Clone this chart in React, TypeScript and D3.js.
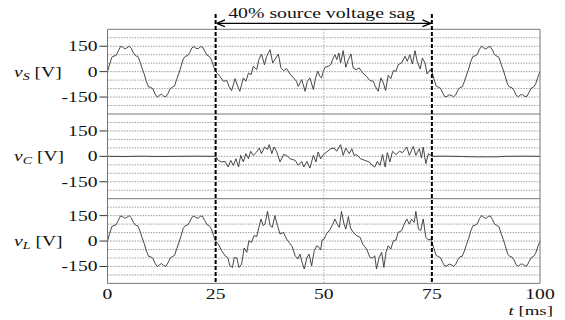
import React from "react";
import * as d3 from "d3";

// ---------- data ----------
const xTicks = [0, 25, 50, 75, 100];
const yTicks = [150, 0, -150];
const panelLabels = ["S", "C", "L"];
const sagStart = 25;
const sagEnd = 75;
const annotation = "40% source voltage sag";

// source voltage before the sag (t [ms], v [V])
const vsPre: [number, number][] = [
  [0, 0], [0.5, 45], [1, 85], [1.5, 92], [2, 96], [2.5, 122], [3, 148], [3.5, 145], [4, 134], [4.5, 140],
  [5, 150], [5.5, 138], [6, 110], [6.5, 93], [7, 90], [7.5, 60], [8, 20], [8.5, -15], [9, -60], [9.5, -90],
  [10, -93], [10.5, -102], [11, -132], [11.5, -150], [12, -140], [12.5, -133], [13, -145], [13.5, -148], [14, -128], [14.5, -100],
  [15, -92], [15.5, -85], [16, -45], [16.5, -10], [17, 30], [17.5, 75], [18, 91], [18.5, 94], [19, 112], [19.5, 140],
  [20, 148], [20.5, 137], [21, 136], [21.5, 147], [22, 145], [22.5, 120], [23, 97], [23.5, 91], [24, 72], [24.5, 33], [25, 0],
];

// source voltage during the sag
const vsSag: [number, number][] = [
  [25.5, -12], [26, -28], [26.8, -57], [27.6, -53], [28.1, -87], [28.7, -112], [29.5, -41], [29.9, -73], [30.6, -116],
  [31.4, -37], [32, -57], [32.6, -8], [33.2, -18], [33.7, 32], [34.5, 12], [35, 71], [35.6, 104], [36.3, 41], [36.8, 91],
  [37.6, 130], [38.2, 51], [38.7, 71], [39.5, 104], [40.1, 22], [40.7, 6], [41.4, 18], [42.2, -14], [43, -37], [43.7, -57],
  [44.1, -87], [44.9, -47], [45.7, -116], [46.2, -57], [46.8, -37], [47.6, -106], [48.1, -37], [48.6, 2], [49.1, -28],
  [49.5, -37], [49.9, 2], [50.3, 26], [51.1, 32], [51.6, 41], [52.2, 81], [52.6, 100], [53, 71], [53.5, 110], [53.9, 51],
  [54.5, 124], [55.1, 26], [55.7, 71], [56.3, 104], [56.8, 22], [57.5, 12], [58.2, 22], [59, -8], [59.9, -28], [60.7, -53],
  [61.5, -57], [61.8, -81], [62.6, -116], [63.2, -37], [63.8, -67], [64.3, -112], [64.9, -22], [65.5, -41], [66.1, 6],
  [66.7, 2], [67.2, 41], [68, 51], [68.8, 91], [69.3, 61], [69.9, 100], [70.5, 45], [71.1, 124], [71.6, 61], [72.3, 16],
  [72.8, 81], [73.4, 51], [73.9, -14], [74.6, 12], [75, 0],
];

// source voltage after the sag
const vsPost: [number, number][] = [
  [75.5, -45], [76, -85], [76.5, -92], [77, -98], [77.5, -126], [78, -148], [78.5, -146], [79, -136], [79.5, -140],
  [80, -148], [80.5, -138], [81, -110], [81.5, -93], [82, -90], [82.5, -60], [83, -20], [83.5, 15], [84, 60], [84.5, 90],
  [85, 93], [85.5, 102], [86, 132], [86.5, 150], [87, 140], [87.5, 133], [88, 145], [88.5, 148], [89, 128], [89.5, 100],
  [90, 92], [90.5, 85], [91, 45], [91.5, 10], [92, -30], [92.5, -75], [93, -91], [93.5, -94], [94, -112], [94.5, -140],
  [95, -148], [95.5, -137], [96, -136], [96.5, -147], [97, -145], [97.5, -120], [98, -97], [98.5, -91], [99, -72], [99.5, -33], [100, 0],
];

// compensating voltage
const vcPre: [number, number][] = [
  [0, 0], [4, -1], [8, 1], [12, -1], [16, 0], [20, 1], [25, 0],
];
const vcSag: [number, number][] = [
  [25.6, -24], [26.4, -33], [27.2, -30], [27.9, -63], [28.5, -24], [29.1, -53], [29.7, -14], [30.3, -63], [30.8, 6],
  [31.4, -33], [32, 16], [32.6, -14], [33.1, 30], [33.7, 6], [34.5, 26], [35.1, 49], [35.6, 16], [36.3, 55], [37, 41],
  [37.4, 69], [38, 16], [38.5, 55], [39.1, 30], [39.9, -33], [40.7, 10], [41.4, 6], [42.2, -14], [43.4, -24], [44.1, -53],
  [44.9, -30], [45.4, -63], [46.1, -30], [46.8, -69], [47.6, 6], [48.2, -33], [48.7, 26], [49.3, -14], [49.9, 10],
  [50.7, 26], [51.6, 45], [52.4, 49], [53, 30], [53.9, 69], [54.5, 6], [55.1, 49], [55.9, 16], [56.5, 45], [57, 6],
  [57.6, 10], [58.5, -14], [59.5, -24], [60.5, -33], [61.2, -53], [61.8, -63], [62.4, -30], [63, -53], [63.6, 10],
  [64.2, -63], [64.7, 22], [65.3, -33], [65.9, 30], [66.7, 10], [67.5, 30], [68.2, 22], [69.2, 55], [69.8, 6], [70.7, 59],
  [71.3, 6], [72.1, 45], [72.6, -10], [73, 55], [73.6, -43], [74.2, 16], [74.7, 6], [75, 0],
];
const vcPost: [number, number][] = [
  [78, 1], [82, -1], [85, -3], [90, -3], [92, 0], [96, 1], [100, 0],
];

// load voltage during the sag (before/after it equals the source voltage)
const vlSag: [number, number][] = [
  [25.6, -18], [26.4, -57], [27.2, -87], [27.8, -97], [28.3, -146], [28.9, -156], [29.3, -97], [29.9, -100], [30.4, -156],
  [31, -136], [31.6, -41], [32.2, -67], [32.7, 2], [33.3, -8], [33.9, 32], [34.5, 26], [35, 81], [35.5, 130], [36, 91],
  [36.4, 100], [37, 175], [37.6, 91], [38.1, 81], [38.7, 150], [39.3, 91], [39.9, 41], [40.7, 51], [41.4, 12], [42, -8],
  [42.7, -33], [43.4, -87], [44, -106], [44.5, -77], [45.1, -136], [45.5, -165], [46.1, -97], [46.6, -77], [47.2, -146],
  [47.8, -57], [48.4, -28], [48.9, -37], [49.3, -53], [49.6, 6], [50.1, 12], [50.7, 45], [51.4, 65], [52.1, 100],
  [52.6, 130], [53.1, 100], [53.6, 81], [54.1, 175], [54.7, 100], [55.1, 71], [55.7, 144], [56.2, 77], [56.8, 51],
  [57.6, 32], [58.4, 22], [59, -18], [59.9, -47], [60.7, -97], [61.3, -100], [61.8, -87], [62.2, -165], [62.8, -97],
  [63.4, -67], [63.9, -156], [64.4, -67], [64.9, -28], [65.5, -47], [66.1, 2], [66.7, 6], [67.2, 51], [68, 61], [68.6, 100],
  [69.2, 130], [69.8, 100], [70.3, 130], [70.9, 110], [71.3, 175], [71.9, 71], [72.4, 61], [73, 130], [73.6, 22],
  [74.2, 6], [74.7, 12], [75, -8],
];

// ---------- layout ----------
const W = 565;
const H = 320;
const left = 107.5;
const right = 540;
const top0 = 29.3;
const panelH = 84.7;
const FONT = '"Liberation Serif", "Times New Roman", "DejaVu Serif", serif';
const FS = 14;
const SX = 1.4; // horizontal stretch of the reference lettering

const x = d3.scaleLinear().domain([0, 100]).range([left, right]);
const yFor = (i: number) =>
  d3.scaleLinear().domain([-250, 250]).range([top0 + (i + 1) * panelH, top0 + i * panelH]);

const seriesData: [number, number][][] = [
  [...vsPre, ...vsSag, ...vsPost],
  [...vcPre, ...vcSag, ...vcPost],
  [...vsPre, ...vlSag, ...vsPost],
];

const gridVals = d3.range(-200, 250, 50);

function Label({
  x: lx,
  y: ly,
  anchor = "start",
  size = FS,
  children,
}: {
  x: number;
  y: number;
  anchor?: "start" | "middle" | "end";
  size?: number;
  children: React.ReactNode;
}) {
  return (
    <g transform={`translate(${lx},${ly}) scale(${SX},1)`}>
      <text x={0} y={0} textAnchor={anchor} fontSize={size} fill="#111" style={{ fontFamily: FONT }}>
        {children}
      </text>
    </g>
  );
}

export default function App() {
  const bottom = top0 + 3 * panelH;
  return (
    <svg
      width={W}
      height={H}
      style={{ position: "absolute", left: 0, top: 0, background: "#fff" }}
    >
      {seriesData.map((data, i) => {
        const y = yFor(i);
        const line = d3
          .line<[number, number]>()
          .x((d) => x(d[0]))
          .y((d) => y(d[1]));
        return (
          <g key={i}>
            {gridVals.map((v) => (
              <line
                key={v}
                x1={left}
                x2={right}
                y1={y(v)}
                y2={y(v)}
                stroke="#777"
                strokeWidth={0.7}
                strokeDasharray="1.5,1.2"
              />
            ))}
            {yTicks.map((v) => (
              <g key={v}>
                <line x1={left - 8} x2={left} y1={y(v)} y2={y(v)} stroke="#333" strokeWidth={1} />
                <Label x={left - 10} y={y(v) + 5} anchor="end">
                  {v}
                </Label>
              </g>
            ))}
            <Label x={14} y={y(0) + 5}>
              <tspan fontStyle="italic">v</tspan>
              <tspan fontStyle="italic" fontSize={10} dy="3">
                {panelLabels[i]}
              </tspan>
              <tspan dy="-3"> [V]</tspan>
            </Label>
            <path d={line(data) || ""} fill="none" stroke="#333" strokeWidth={0.9} />
          </g>
        );
      })}

      {/* vertical dotted line at t = 50 */}
      <line
        x1={x(50)}
        x2={x(50)}
        y1={top0}
        y2={bottom}
        stroke="#888"
        strokeWidth={0.7}
        strokeDasharray="1.5,1.5"
      />

      {/* panel frames */}
      {[0, 1, 2, 3].map((k) => (
        <line
          key={k}
          x1={left}
          x2={right}
          y1={top0 + k * panelH}
          y2={top0 + k * panelH}
          stroke="#777"
          strokeWidth={1}
        />
      ))}
      <line x1={left} x2={left} y1={top0} y2={bottom} stroke="#777" strokeWidth={1} />
      <line x1={right} x2={right} y1={top0} y2={bottom} stroke="#777" strokeWidth={1} />

      {/* sag markers */}
      {[sagStart, sagEnd].map((t) => (
        <line
          key={t}
          x1={x(t)}
          x2={x(t)}
          y1={14}
          y2={bottom}
          stroke="#000"
          strokeWidth={2}
          strokeDasharray="4,2"
        />
      ))}
      <defs>
        <marker
          id="ah"
          viewBox="0 0 10 10"
          refX={10}
          refY={5}
          markerWidth={7}
          markerHeight={7}
          orient="auto-start-reverse"
        >
          <path d="M0,1 L10,5 L0,9" fill="none" stroke="#000" strokeWidth={1.5} />
        </marker>
      </defs>
      <line
        x1={x(sagStart) + 1}
        x2={x(sagEnd) - 1}
        y1={23.3}
        y2={23.3}
        stroke="#000"
        strokeWidth={1.2}
        markerStart="url(#ah)"
        markerEnd="url(#ah)"
      />
      <text
        x={x((sagStart + sagEnd) / 2) - 2}
        y={18}
        textAnchor="middle"
        fontSize={14.5}
        fill="#111"
        textLength={187}
        lengthAdjust="spacingAndGlyphs"
        style={{ fontFamily: FONT }}
      >
        {annotation}
      </text>

      {/* x axis tick labels */}
      {xTicks.map((t) => (
        <Label key={t} x={x(t)} y={bottom + 16} anchor="middle">
          {t}
        </Label>
      ))}
      <Label x={553} y={bottom + 32} anchor="end" size={13.5}>
        <tspan fontStyle="italic">t</tspan> [ms]
      </Label>
    </svg>
  );
}
